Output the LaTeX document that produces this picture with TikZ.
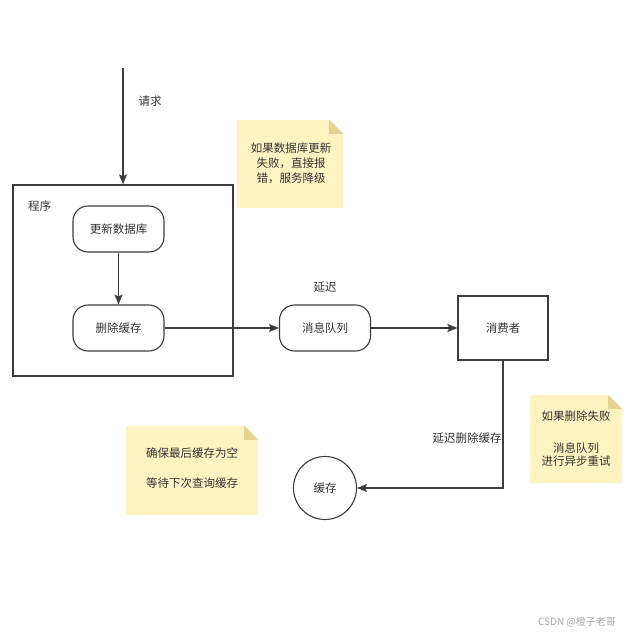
\documentclass[tikz,border=0pt]{standalone}
\usepackage{fontspec}
\setmainfont{Noto Sans CJK SC}
\usetikzlibrary{arrows.meta,positioning}
\definecolor{ln}{HTML}{3C3C3C}
\definecolor{tx}{HTML}{333333}
\definecolor{notefill}{HTML}{FFF3C2}
\definecolor{notefold}{HTML}{E6D28F}
\tikzset{
  every node/.style={font=\fontsize{11.5}{14}\selectfont, text=tx},
  conn/.style={draw=ln, line width=1.1pt},
  arr/.style={conn, -{Stealth[length=10pt,width=8pt,inset=2pt]}},
  pill/.style={draw=ln, line width=1.1pt, rounded corners=15pt, minimum width=91pt, minimum height=46pt, inner sep=0pt},
  plainbox/.style={draw=ln, line width=1.3pt, inner sep=0pt},
  notebox/.style={fill=notefill, inner sep=0pt, align=center},
  lbl/.style={inner sep=1pt}
}
\newcommand{\notefold}[1]{%
  \fill[white] ([xshift=-14pt]#1.north east) -- (#1.north east) -- ([yshift=-14pt]#1.north east) -- cycle;
  \fill[notefold] ([xshift=-14pt]#1.north east) -- ([yshift=-14pt]#1.north east) -- ([xshift=-14pt,yshift=-14pt]#1.north east) -- cycle;}
\begin{document}
\begin{tikzpicture}[x=1pt,y=-1pt]
\useasboundingbox (0,0) rectangle (627,636);
% program container
\node[plainbox, minimum width=220pt, minimum height=191pt] (prog) at (123,280.5) {};
\node[lbl, anchor=west] (progl) at (27,206) {程序};
\coordinate (req) at (123,68);
\draw[arr] (req) -- (prog.north);
\node[lbl] (reql) at (150,101) {请求};
% pills
\node[pill] (upd) at (118.5,229) {更新数据库};
\node[pill] (del) at (118.5,328) {删除缓存};
\draw[arr] (upd) -- (del);
\node[pill] (mq) at (325,328) {消息队列};
\draw[arr] (del) -- (mq);
\node[lbl] (delay) at (325,287) {延迟};
\node[plainbox, minimum width=90pt, minimum height=64pt] (cons) at (503,328) {消费者};
\draw[arr] (mq) -- (cons);
\node[draw=ln, line width=1.1pt, circle, minimum size=63pt, inner sep=0pt] (cache) at (325,488) {缓存};
\draw[arr] (cons.south) |- (cache.east);
\node[lbl] (dell) at (467,438) {延迟删除缓存};
% notes
\node[notebox, minimum width=106pt, minimum height=88pt] (n1) at (290,164) {};
\notefold{n1}
\node[lbl, align=center] (n1t) at (291,163) {如果数据库更新\\[1pt]失败，直接报\\[1pt]错，服务降级};
\node[notebox, minimum width=92pt, minimum height=88pt] (n2) at (576,439) {};
\notefold{n2}
\node[lbl, align=center] (n2t) at (576,438.5) {如果删除失败\\[18pt]消息队列\\[-1pt]进行异步重试};
\node[notebox, minimum width=132pt, minimum height=89pt] (n3) at (192,470.5) {};
\notefold{n3}
\node[lbl, align=center] (n3t) at (192,468) {确保最后缓存为空\\[16pt]等待下次查询缓存};
\node[lbl, text=gray!70, font=\fontsize{10}{12}\selectfont] (wm) at (577,622) {CSDN @橙子老哥};
\end{tikzpicture}
\end{document}
